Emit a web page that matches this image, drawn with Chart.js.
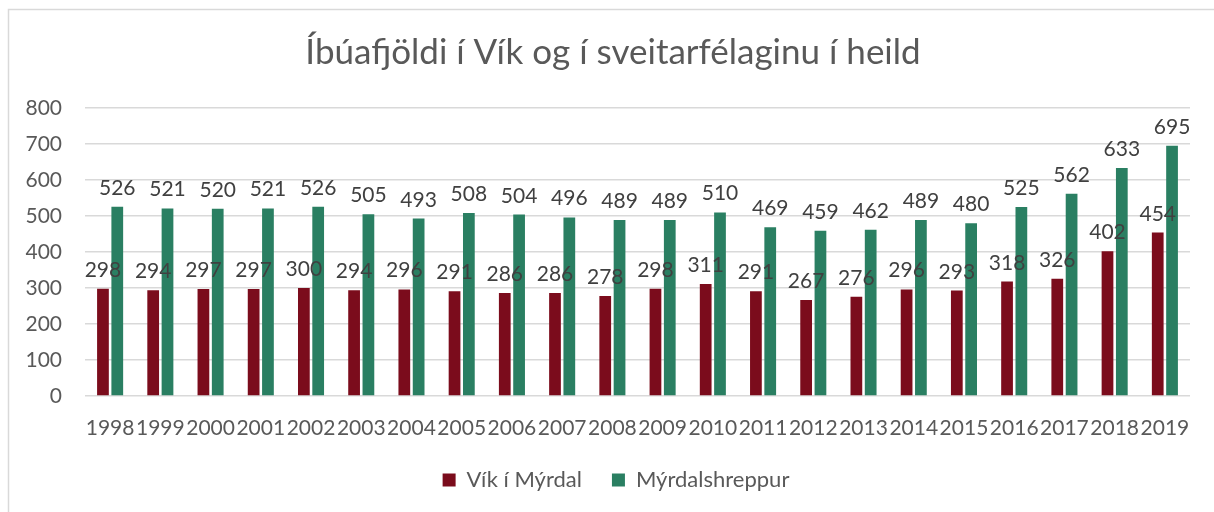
<!DOCTYPE html>
<html>
<head>
<meta charset="utf-8">
<script src="https://cdn.jsdelivr.net/npm/chart.js@4"></script>
<style>
  html, body { margin: 0; padding: 0; background: #ffffff; }
  #wrap { position: relative; width: 1214px; height: 512px; }
</style>
</head>
<body>
<div id="wrap"><canvas id="c" width="1214" height="512"></canvas></div>
<script>
const years = ["1998","1999","2000","2001","2002","2003","2004","2005","2006","2007","2008","2009","2010","2011","2012","2013","2014","2015","2016","2017","2018","2019"];
const vikValues = [298,294,297,297,300,294,296,291,286,286,278,298,311,291,267,276,296,293,318,326,402,454];
const hreppurValues = [526,521,520,521,526,505,493,508,504,496,489,489,510,469,459,462,489,480,525,562,633,695];
const yTicks = [0,100,200,300,400,500,600,700,800];
const titleText = "Íbúafjöldi í Vík og í sveitarfélaginu í heild";
const seriesNames = ["Vík í Mýrdal", "Mýrdalshreppur"];

const FONT = "Lato, 'Open Sans', sans-serif";
const TEXT = "#595959";

const frame = {
  id: 'frame',
  beforeDraw(chart) {
    const ctx = chart.ctx;
    ctx.save();
    ctx.fillStyle = '#ffffff';
    ctx.fillRect(0, 0, chart.width, chart.height);
    ctx.strokeStyle = '#d9d9d9';
    ctx.lineWidth = 1.5;
    ctx.strokeRect(8.5, 9.5, chart.width + 20, chart.height + 20);
    ctx.restore();
  }
};

const blockShift = {
  id: 'blockShift',
  afterLayout(chart) {
    const lg = chart.legend;
    if (lg) { lg.left += 21; lg.right += 21; }
    const tb = chart.titleBlock;
    if (tb) { tb.left += 18; tb.right += 18; }
  }
};

const dataLabels = {
  id: 'dataLabels',
  afterDatasetsDraw(chart) {
    const ctx = chart.ctx;
    ctx.save();
    ctx.font = "21px " + FONT;
    ctx.fillStyle = "#404040";
    ctx.textAlign = "center";
    ctx.textBaseline = "alphabetic";
    chart.data.datasets.forEach((ds, di) => {
      const meta = chart.getDatasetMeta(di);
      meta.data.forEach((bar, i) => {
        ctx.fillText(String(ds.data[i]), bar.x, bar.y - 12);
      });
    });
    ctx.restore();
  }
};

new Chart(document.getElementById('c'), {
  type: 'bar',
  data: {
    labels: years,
    datasets: [
      { label: seriesNames[0], data: vikValues, backgroundColor: '#7B0C1C', barPercentage: 0.82, categoryPercentage: 0.57 },
      { label: seriesNames[1], data: hreppurValues, backgroundColor: '#2A7F62', barPercentage: 0.82, categoryPercentage: 0.57 }
    ]
  },
  options: {
    responsive: false,
    animation: false,
    devicePixelRatio: 1,
    layout: { padding: { left: 0, right: 24, top: 0, bottom: 11 } },
    plugins: {
      title: {
        display: true,
        text: titleText,
        color: TEXT,
        font: { family: FONT, size: 35, weight: 'normal', lineHeight: 1.2 },
        padding: { top: 32, bottom: 34 }
      },
      legend: {
        display: true,
        position: 'bottom',
        labels: {
          color: TEXT,
          font: { family: FONT, size: 22 },
          boxWidth: 13,
          boxHeight: 13,
          padding: 30
        }
      },
      tooltip: { enabled: false }
    },
    scales: {
      x: {
        grid: { display: false, drawTicks: false },
        border: { display: false },
        ticks: { color: TEXT, font: { family: FONT, size: 21 }, padding: 20, maxRotation: 0, autoSkip: false },
        afterFit(scale) { scale.height = 43; }
      },
      y: {
        min: 0,
        max: 800,
        afterBuildTicks(scale) { scale.ticks = yTicks.map(v => ({ value: v })); },
        grid: { color: '#d9d9d9', lineWidth: 1.5, drawTicks: false },
        border: { display: false },
        ticks: { color: TEXT, font: { family: FONT, size: 21 }, padding: 23 },
        afterFit(scale) { scale.width = 85; }
      }
    }
  },
  plugins: [frame, blockShift, dataLabels]
});
</script>
</body>
</html>
